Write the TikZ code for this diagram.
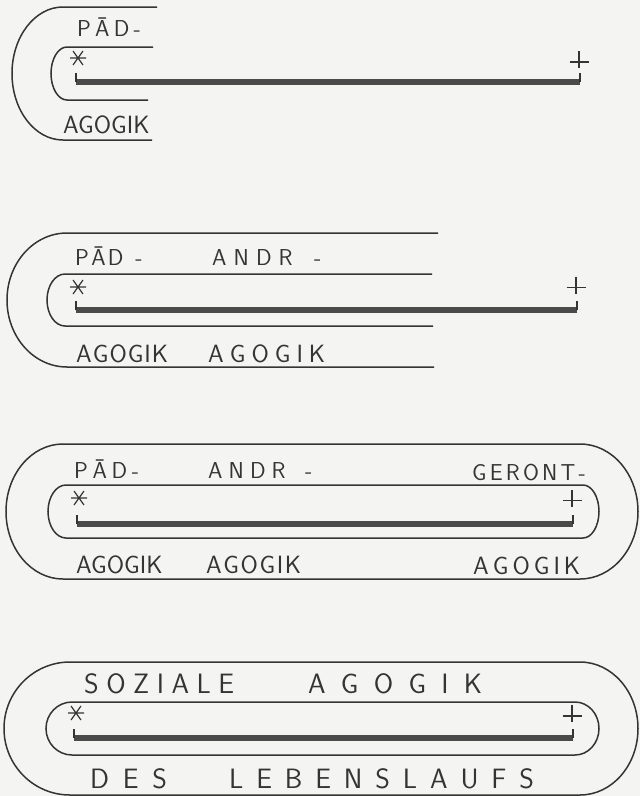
\documentclass[tikz,border=0pt]{standalone}
\usepackage{fontspec}

\definecolor{ink}{HTML}{343434}
\definecolor{barink}{HTML}{4A4A4A}
\definecolor{paper}{HTML}{F4F4F2}

% letters set apart by a fixed kern
\makeatletter
\newcommand\spread[2]{\def\spread@kern{#1}\spread@next#2\relax}
\def\spread@next#1{\ifx\relax#1\else#1\kern\spread@kern\relax\expandafter\spread@next\fi}
\makeatother

\tikzset{
  contour/.style = {draw = ink, line width = 1.5pt},
  lifeline/.style = {draw = barink, line width = 5.5pt},
  upper/.style = {anchor = base west, inner sep = 0pt, text = ink,
    font = \sffamily\fontsize{23}{23}\selectfont},
  lower/.style = {upper, font = \sffamily\fontsize{25}{25}\selectfont},
  motto/.style = {upper, font = \sffamily\fontsize{28}{28}\selectfont},
  birth/.pic = {\draw[contour, line width = 1.2pt]
    (-8,0) -- (8,0) (-5,-7) -- (5,7) (-5,7) -- (5,-7);},
  death/.pic = {\draw[contour, line width = 1.2pt]
    (0,-8.5) -- (0,8.5) (-9.5,-2.5) -- (9.5,-2.5);},
}

\begin{document}
\begin{tikzpicture}[x = 1pt, y = 1pt, yscale = -1]
  \useasboundingbox (0,0) rectangle (640,796);
  \fill[paper] (0,0) rectangle (640,796);

  % draw the life lines with birth and death marks
  \foreach \y/\xa/\xb/\ys/\yd in {82/76/580/58/59.5, 310/76/577/287/285,
    524/77/573/498/498, 738/74/573/713/713.5}{
    \draw[lifeline] (\xa,\y) -- (\xb,\y);
    \draw[contour] (\xa,\y) -- ++(0,-9) (\xb,\y) -- ++(0,-9);
    \pic at (\xa+2,\ys) {birth};
    \pic at (\xb-1,\yd) {death};
  }

  % first panel
  \draw[contour] (157,7) -- (63,7)
    arc[start angle = 270, end angle = 90, x radius = 51, y radius = 66.5]
    -- (152,140);
  \draw[contour] (153,47) -- (67,47)
    arc[start angle = 270, end angle = 90, x radius = 16, y radius = 26.5]
    -- (148,100);
  \node[upper] (pad1) at (77,36) {\spread{4.2pt}{PĀD-}};
  \node[lower] (ago1) at (63,133) {AGOGIK};

  % second panel
  \draw[contour] (438,233) -- (67,233)
    arc[start angle = 270, end angle = 90, x radius = 60, y radius = 67]
    -- (434,367);
  \draw[contour] (432,274) -- (65,274)
    arc[start angle = 270, end angle = 90, x radius = 18, y radius = 26]
    -- (433,326);
  \node[upper] (pad2) at (75,265) {\spread{2.3pt}{PĀD\ -}};
  \node[upper] (andr2) at (212,265) {\spread{7.1pt}{ANDR\ -}};
  \node[lower] (ago2a) at (76,362) {\spread{1pt}{AGOGIK}};
  \node[lower] (ago2b) at (208,362) {\spread{6pt}{AGOGIK}};

  % third panel
  \draw[contour] (63,444) -- (580,444)
    arc[start angle = -90, end angle = 90, x radius = 58, y radius = 67.5]
    -- (63,579)
    arc[start angle = 90, end angle = 270, x radius = 57, y radius = 67.5]
    -- cycle;
  \draw[contour] (66,485) -- (583,485)
    arc[start angle = -90, end angle = 90, x radius = 16, y radius = 26.5]
    -- (66,538)
    arc[start angle = 90, end angle = 270, x radius = 18, y radius = 26.5]
    -- cycle;
  \node[upper] (pad3) at (74,478) {\spread{4.6pt}{PĀD-}};
  \node[upper] (andr3) at (208,478) {\spread{6.1pt}{ANDR\ -}};
  \node[upper] (geront3) at (472,480) {\spread{3.2pt}{GERONT-}};
  \node[lower] (ago3a) at (76,573) {AGOGIK};
  \node[lower] (ago3b) at (206,573) {\spread{1.6pt}{AGOGIK}};
  \node[lower] (ago3c) at (473,574) {\spread{4pt}{AGOGIK}};

  % fourth panel
  \draw[contour] (70,662) -- (580,662)
    arc[start angle = -90, end angle = 90, x radius = 58, y radius = 66.5]
    -- (70,795)
    arc[start angle = 90, end angle = 270, x radius = 66, y radius = 66.5]
    -- cycle;
  \draw[contour] (72,702) -- (575,702)
    arc[start angle = -90, end angle = 90, x radius = 24, y radius = 26.5]
    -- (72,755)
    arc[start angle = 90, end angle = 270, x radius = 26, y radius = 26.5]
    -- cycle;
  \node[motto] (soziale) at (84,693) {\spread{7.5pt}{SOZIALE}};
  \node[motto] (agogik) at (308,693) {\spread{15.3pt}{AGOGIK}};
  \node[motto] (des) at (90,788) {\spread{13.7pt}{DES}};
  \node[motto] (lebenslauf) at (229,788) {\spread{12.9pt}{LEBENSLAUFS}};
\end{tikzpicture}
\end{document}
